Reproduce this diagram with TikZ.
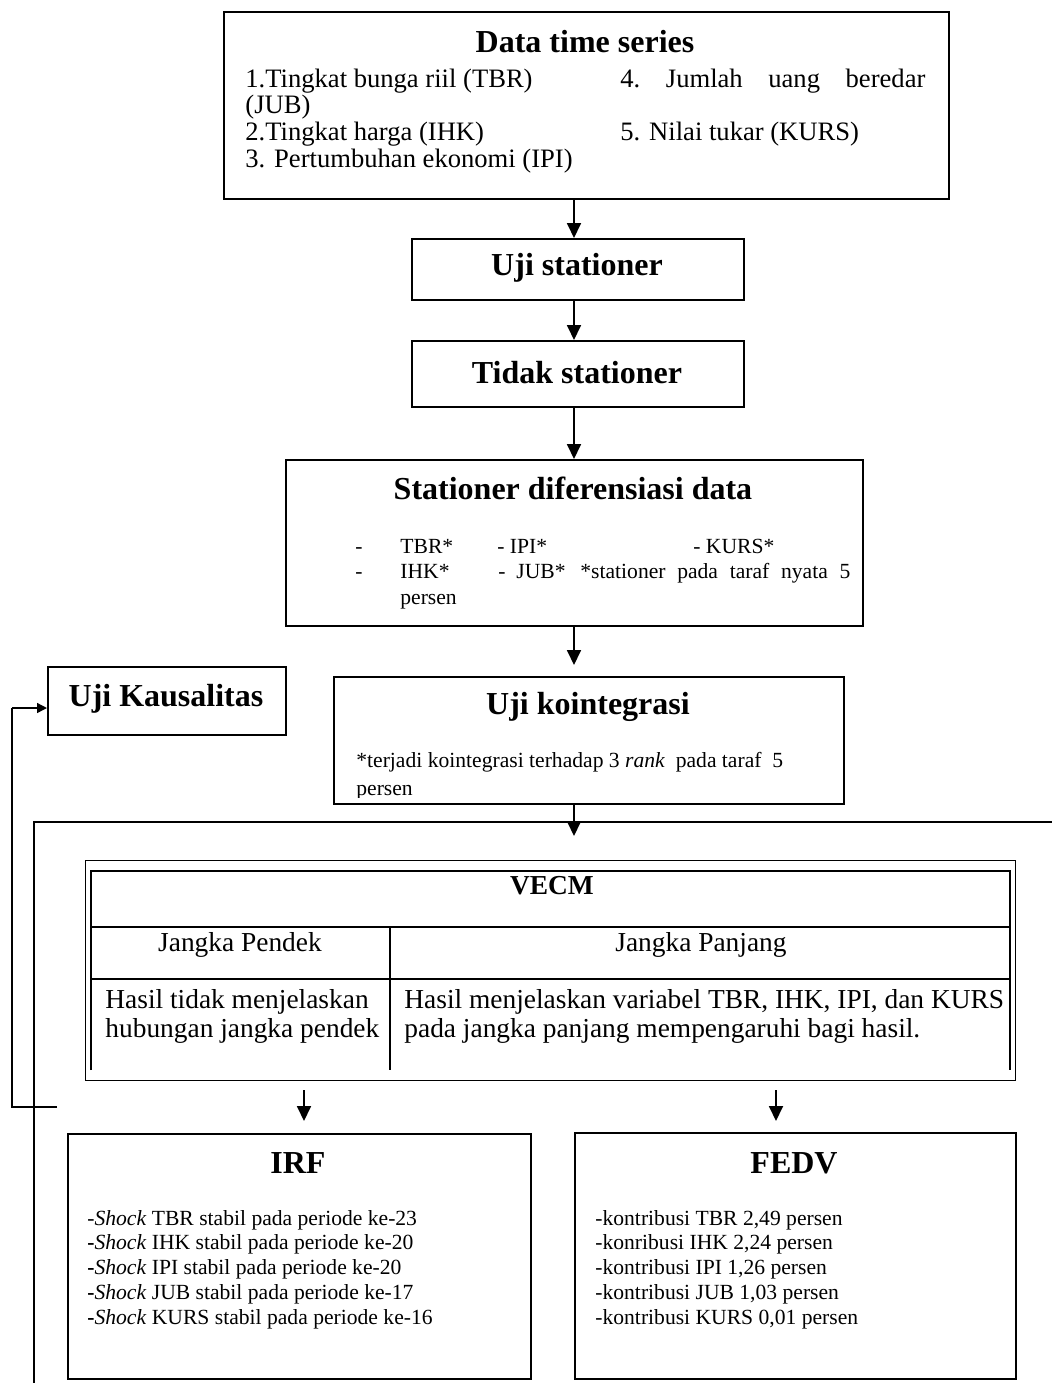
\documentclass[tikz,border=0pt]{standalone}
\usepackage{fontspec}
\setmainfont{Liberation Serif}
\usetikzlibrary{arrows.meta}
\begin{document}
\begin{tikzpicture}[x=0.5pt,y=-0.5pt,
  box/.style={draw,line width=0.9pt,inner sep=0pt,anchor=north west},
  thinbox/.style={draw,line width=0.6pt,inner sep=0pt,anchor=north west},
  tabline/.style={line width=1.1pt},
  arr/.style={line width=0.9pt,-{Triangle[width=7pt,length=7.5pt]}},
  smallarr/.style={line width=0.7pt,-{Triangle[width=5pt,length=5pt]}},
  ln/.style={line width=0.7pt},
  head/.style={font=\fontsize{16}{18}\selectfont\bfseries,inner sep=0pt},
  body/.style={font=\fontsize{13.3}{15}\selectfont,inner sep=0pt,anchor=base west},
  small/.style={font=\fontsize{10.8}{12}\selectfont,inner sep=0pt,anchor=base west},
  tab/.style={font=\fontsize{13.7}{15}\selectfont,inner sep=0pt},
  tabw/.style={font=\fontsize{13.7}{15}\selectfont,inner sep=0pt,anchor=base west},
]
\useasboundingbox (0,0) rectangle (1052,1383);

% ---------- boxes ----------
\node[box,minimum width=362.5pt,minimum height=93.5pt] (data) at (223,11) {};
\node[box,minimum width=166pt,minimum height=30.5pt] (uji) at (411,238) {};
\node[box,minimum width=166pt,minimum height=33pt] (tidak) at (411,340) {};
\node[box,minimum width=288.5pt,minimum height=83pt] (stdif) at (285,459) {};
\node[box,minimum width=119pt,minimum height=34pt] (kaus) at (47,666) {};
\node[box,minimum width=255pt,minimum height=63.5pt] (koint) at (333,676) {};
\node[thinbox,minimum width=465pt,minimum height=110pt] (vecm) at (85,860) {};
\node[box,minimum width=231.5pt,minimum height=122.5pt] (irf) at (67,1133) {};
\node[box,minimum width=220.5pt,minimum height=123pt] (fedv) at (574,1132) {};

% ---------- Data time series ----------
\node[head] (dtitle) at (585,42) {Data time series};
\node[body] (d1) at (245,87) {1.Tingkat bunga riil (TBR)};
\node[body] (d2) at (245,113) {(JUB)};
\node[body] (d3) at (245,140) {2.Tingkat harga (IHK)};
\node[body] (d4) at (245,167) {3. Pertumbuhan ekonomi (IPI)};
\node[body] (d5) at (620,87) {\hbox to 152.5pt{4.\hfill Jumlah\hfill uang\hfill beredar}};
\node[body] (d6) at (620,140) {5. Nilai tukar (KURS)};

% ---------- titles ----------
\node[head] (ujit) at (577,268) {Uji stationer};
\node[head] (tidakt) at (577,373) {Tidak stationer};
\node[head] (stdift) at (573,488) {Stationer diferensiasi data};
\node[head] (kaust) at (166,699) {Uji Kausalitas};
\node[head] (kointt) at (588,707) {Uji kointegrasi};

% ---------- stationer diferensiasi ----------
\node[small] (s1) at (355,553) {-};
\node[small] (s2) at (400,553) {TBR*};
\node[small] (s3) at (497,553) {- IPI*};
\node[small] (s4) at (693,553) {- KURS*};
\node[small] (s5) at (355,578) {-};
\node[small] (s6) at (400,578) {IHK*};
\node[small] (s7) at (498,578) {-\ \ JUB*};
\node[small] (s8) at (580,578) {\hbox to 135pt{*stationer\hfill pada\hfill taraf\hfill nyata\hfill 5}};
\node[small] (s9) at (400,604) {persen};

% ---------- kointegrasi ----------
\node[small] (k1) at (356,767) {*terjadi kointegrasi terhadap 3 \textit{rank}\ \ pada taraf\ \ 5};
\begin{scope}
  \clip (333,676) rectangle (843,797);
  \node[small] (k2) at (356,795) {persen};
\end{scope}

% ---------- VECM table ----------
\draw[tabline] (91,1070) -- (91,871) -- (1010,871) -- (1010,1070);
\draw[tabline] (91,927) -- (1010,927);
\draw[tabline] (91,979) -- (1010,979);
\draw[tabline] (390,927) -- (390,1070);
\node[tab,font=\fontsize{13.7}{15}\selectfont\bfseries] (vt) at (552,886) {VECM};
\node[tab] (jp) at (240,945) {Jangka Pendek};
\node[tab] (jl) at (701,945) {Jangka Panjang};
\node[tabw] (h1) at (105,1008) {Hasil tidak menjelaskan};
\node[tabw] (h2) at (105,1037) {hubungan jangka pendek};
\node[tabw] (h3) at (404,1008) {Hasil menjelaskan variabel TBR, IHK, IPI, dan KURS};
\node[tabw] (h4) at (404,1037) {pada jangka panjang mempengaruhi bagi hasil.};

% ---------- IRF ----------
\node[head] (irft) at (298,1163) {IRF};
\node[small] (i1) at (87,1225) {-\textit{Shock} TBR stabil pada periode ke-23};
\node[small] (i2) at (87,1249) {\textbf{-}\textit{Shock} IHK stabil pada periode ke-20};
\node[small] (i3) at (87,1274) {\textbf{-}\textit{Shock} IPI stabil pada periode ke-20};
\node[small] (i4) at (87,1299) {\textbf{-}\textit{Shock} JUB stabil pada periode ke-17};
\node[small] (i5) at (87,1324) {\textbf{-}\textit{Shock} KURS stabil pada periode ke-16};

% ---------- FEDV ----------
\node[head] (fedvt) at (794,1163) {FEDV};
\node[small] (f1) at (595,1225) {-kontribusi TBR 2,49 persen};
\node[small] (f2) at (595,1249) {-konribusi IHK 2,24 persen};
\node[small] (f3) at (595,1274) {-kontribusi IPI 1,26 persen};
\node[small] (f4) at (595,1299) {-kontribusi JUB 1,03 persen};
\node[small] (f5) at (595,1324) {-kontribusi KURS 0,01 persen};

% ---------- coordinates ----------
\coordinate (ax) at (574,0);
\coordinate (kTip) at (574,665);
\coordinate (vTip) at (574,836);
\coordinate (iA) at (304,1090);
\coordinate (iB) at (304,1121);
\coordinate (fA) at (776,1090);
\coordinate (fB) at (776,1121);
\coordinate (lA) at (57,1107);
\coordinate (lB) at (12,1107);
\coordinate (lC) at (12,708);
\coordinate (rA) at (1052,822);
\coordinate (rB) at (34,822);
\coordinate (rC) at (34,1383);

% ---------- connectors ----------
\draw[arr] (data.south -| ax) -- (uji.north -| ax);
\draw[arr] (uji.south -| ax) -- (tidak.north -| ax);
\draw[arr] (tidak.south -| ax) -- (stdif.north -| ax);
\draw[arr] (stdif.south -| ax) -- (kTip);
\draw[arr] (koint.south -| ax) -- (vTip);
\draw[arr] (iA) -- (iB);
\draw[arr] (fA) -- (fB);
\draw[ln] (rA) -- (rB) -- (rC);
\draw[ln] (lA) -- (lB) -- (lC);
\draw[smallarr] (lC) -- (lC -| kaus.west);
\end{tikzpicture}
\end{document}
